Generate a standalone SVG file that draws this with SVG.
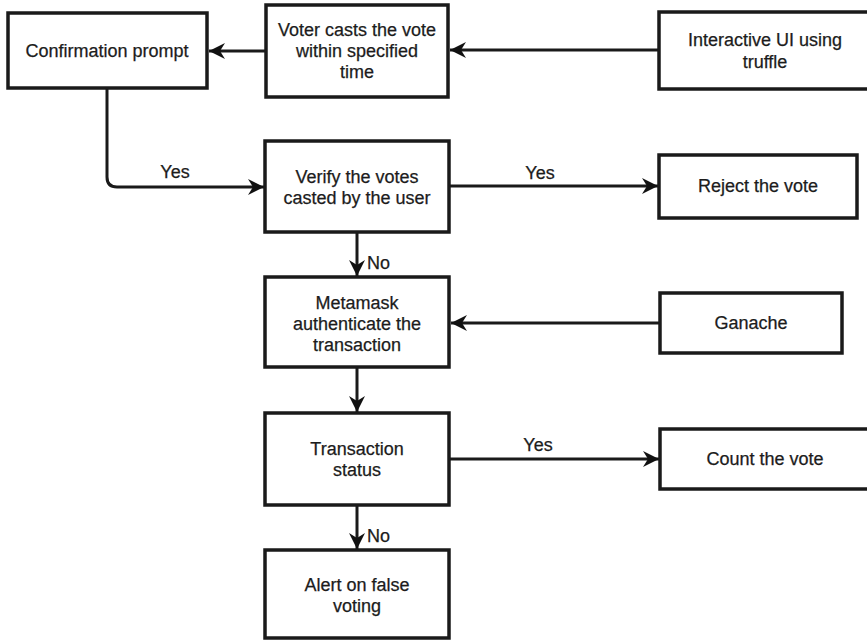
<svg xmlns="http://www.w3.org/2000/svg" width="867" height="641" viewBox="0 0 867 641">
  <defs>
    <marker id="arrow" markerUnits="userSpaceOnUse" markerWidth="18" markerHeight="18" refX="16" refY="8" orient="auto">
      <path d="M0,0 L16,8 L0,16 L5,8 Z" fill="#111"/>
    </marker>
    <style>
      .box { fill: #ffffff; stroke: #1a1a1a; stroke-width: 3.5; }
      .edge { fill: none; stroke: #1a1a1a; stroke-width: 3; marker-end: url(#arrow); }
      text { font-family: "Liberation Sans", Arial, sans-serif; font-size: 18px; fill: #1c1c1c; stroke: #1c1c1c; stroke-width: 0.25; }
      .c { text-anchor: middle; }
    </style>
  </defs>
  <rect width="867" height="641" fill="#ffffff"/>

  <!-- connectors and their labels -->
  <g id="connectors">
    <path class="edge" d="M659,50 H450"/>
    <path class="edge" d="M266,51 H209"/>
    <path class="edge" d="M107,88 V177 Q107,187 117,187 H264"/>
    <path class="edge" d="M449,186 H658"/>
    <path class="edge" d="M357,232 V276"/>
    <path class="edge" d="M660,323 H451"/>
    <path class="edge" d="M357,367 V412"/>
    <path class="edge" d="M449,459 H659"/>
    <path class="edge" d="M357,505 V549"/>
    <text x="175" y="178" class="c">Yes</text>
    <text x="540" y="179" class="c">Yes</text>
    <text x="367" y="269">No</text>
    <text x="538" y="451" class="c">Yes</text>
    <text x="367" y="542">No</text>
  </g>

  <g id="confirm">
    <rect class="box" x="8" y="13" width="199" height="75"/>
    <text x="107" y="57" class="c">Confirmation prompt</text>
  </g>

  <g id="voter">
    <rect class="box" x="266" y="5" width="182" height="92"/>
    <text x="357" y="36" class="c">Voter casts the vote</text>
    <text x="357" y="57" class="c">within specified</text>
    <text x="357" y="78" class="c">time</text>
  </g>

  <g id="ui">
    <rect class="box" x="659" y="12" width="212" height="77"/>
    <text x="765" y="46" class="c">Interactive UI using</text>
    <text x="765" y="68" class="c">truffle</text>
  </g>

  <g id="verify">
    <rect class="box" x="265" y="141" width="184" height="91"/>
    <text x="357" y="183" class="c">Verify the votes</text>
    <text x="357" y="204" class="c">casted by the user</text>
  </g>

  <g id="reject">
    <rect class="box" x="659" y="155" width="198" height="63"/>
    <text x="758" y="192" class="c">Reject the vote</text>
  </g>

  <g id="metamask">
    <rect class="box" x="265" y="277" width="184" height="90"/>
    <text x="357" y="309" class="c">Metamask</text>
    <text x="357" y="330" class="c">authenticate the</text>
    <text x="357" y="351" class="c">transaction</text>
  </g>

  <g id="ganache">
    <rect class="box" x="660" y="293" width="182" height="60"/>
    <text x="751" y="329" class="c">Ganache</text>
  </g>

  <g id="transaction">
    <rect class="box" x="265" y="413" width="184" height="92"/>
    <text x="357" y="455" class="c">Transaction</text>
    <text x="357" y="476" class="c">status</text>
  </g>

  <g id="count">
    <rect class="box" x="660" y="429" width="210" height="60"/>
    <text x="765" y="465" class="c">Count the vote</text>
  </g>

  <g id="alert">
    <rect class="box" x="265" y="550" width="184" height="88"/>
    <text x="357" y="591" class="c">Alert on false</text>
    <text x="357" y="612" class="c">voting</text>
  </g>
</svg>
